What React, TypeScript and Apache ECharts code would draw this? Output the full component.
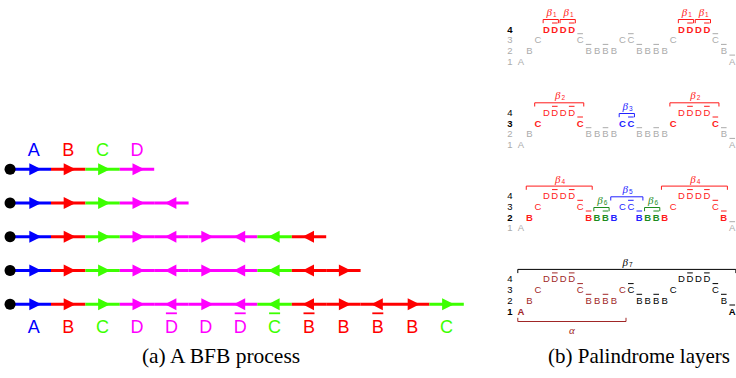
import React, { useEffect, useRef } from 'react';
import * as echarts from 'echarts';

// ---------- Panel (a): BFB process (a trailing ' marks an inverted segment) ----------
const bfbRows: string[][] = [
  ['A', 'B', 'C', 'D'],
  ['A', 'B', 'C', 'D', "D'"],
  ['A', 'B', 'C', 'D', "D'", 'D', "D'", "C'", "B'"],
  ['A', 'B', 'C', 'D', "D'", 'D', "D'", "C'", "B'", 'B'],
  ['A', 'B', 'C', 'D', "D'", 'D', "D'", "C'", "B'", 'B', "B'", 'B', 'C'],
];
const topLabels: string[] = ['A', 'B', 'C', 'D'];
const bottomLabels: string[] = bfbRows[bfbRows.length - 1];
const dotPosition = -0.19; // start of the chromosome, in segment units

// ---------- Panel (b): palindrome layers ----------
const palindrome: string[] = [
  'A', 'B', 'C', 'D', "D'", 'D', "D'", "C'", "B'", 'B', "B'", 'B', 'C',
  "C'", "B'", 'B', "B'", 'B', 'C', 'D', "D'", 'D', "D'", "C'", "B'", "A'",
];
const letterLevel: Record<string, number> = { A: 1, B: 2, C: 3, D: 4 };
const layerActiveLevel: number[] = [4, 3, 2, 1];
const levelLabels: number[] = [1, 2, 3, 4];

// palindromes of every layer
const spanLayer: number[] = [0, 0, 0, 0, 1, 1, 1, 2, 2, 2, 2, 2, 3, 3];
const spanStart: number[] = [3, 5, 19, 21, 2, 12, 18, 1, 9, 11, 15, 17, 0, 0];
const spanEnd: number[] = [4, 6, 20, 22, 7, 13, 23, 8, 10, 14, 16, 24, 25, 12];
const spanSymbol: string[] = ['β', 'β', 'β', 'β', 'β', 'β', 'β', 'β', 'β', 'β', 'β', 'β', 'β', 'α'];
const spanIndex: string[] = ['1', '1', '1', '1', '2', '3', '2', '4', '6', '5', '6', '4', '7', ''];
const spanGroup: string[] = ['r', 'r', 'r', 'r', 'r', 'b', 'r', 'r', 'g', 'b', 'g', 'r', 'k', 'm'];
const spanSide: string[] = ['up', 'up', 'up', 'up', 'up', 'up', 'up', 'up', 'up', 'up', 'up', 'up', 'up', 'down'];

const captionA = '(a) A BFB process';
const captionB = '(b) Palindrome layers';

// ---------- styles / layout ----------
const SEG_COLORS: Record<string, string> = { A: '#0000ff', B: '#ff0000', C: '#3cff00', D: '#ff00ff' };
const GROUP_COLORS: Record<string, string> = { r: '#ff1a1a', b: '#2222ff', g: '#1e8c1e', k: '#000000', m: '#a02626' };
const GRAY = '#ababab';
const SANS = '"Liberation Sans", Arial, sans-serif';
const SERIF = '"Liberation Serif", "Times New Roman", serif';
const BLOCK = 83.3 / 10.7; // vertical distance between layers, in level units
const LABEL_X = -1.3; // level numbers, in character units
const SMALL = 9.5;

const layerY = (b: number, level: number) => b * BLOCK + (4 - level);

// ---- data built from the arrays ----
const segInfo: { r: number; s: number; tok: string }[] = [];
bfbRows.forEach((row, r) => row.forEach((tok, s) => segInfo.push({ r, s, tok })));
const segData = segInfo.map((d) => [d.s, d.r]);
const dotData = bfbRows.map((_, r) => [dotPosition, r]);

const labelInfo: { tok: string; pos: 'top' | 'bottom' }[] = [];
const labelData: number[][] = [];
topLabels.forEach((tok, s) => { labelInfo.push({ tok, pos: 'top' }); labelData.push([s + 0.5, 0]); });
bottomLabels.forEach((tok, s) => { labelInfo.push({ tok, pos: 'bottom' }); labelData.push([s + 0.5, bfbRows.length - 1]); });

const charInfo: { b: number; i: number; tok: string; level: number }[] = [];
const charData: number[][] = [];
layerActiveLevel.forEach((_, b) => palindrome.forEach((tok, i) => {
  const level = letterLevel[tok[0]];
  charInfo.push({ b, i, tok, level });
  charData.push([i, layerY(b, level)]);
}));

const rowInfo: { b: number; level: number }[] = [];
const rowData: number[][] = [];
layerActiveLevel.forEach((_, b) => levelLabels.forEach((level) => {
  rowInfo.push({ b, level });
  rowData.push([LABEL_X, layerY(b, level)]);
}));

const spanData: number[][] = spanLayer.map((b, k) => {
  const lv = palindrome.slice(spanStart[k], spanEnd[k] + 1).map((t) => letterLevel[t[0]]);
  const level = spanSide[k] === 'up' ? Math.max(...lv) : Math.min(...lv);
  return [spanStart[k], spanEnd[k], layerY(b, level)];
});

function charStyle(b: number, i: number, level: number) {
  const active = layerActiveLevel[b];
  if (level < active) return { color: GRAY, bold: false };
  let g = '';
  spanLayer.forEach((sb, k) => {
    if (sb === b && i >= spanStart[k] && i <= spanEnd[k]) g = spanGroup[k];
  });
  return { color: g ? GROUP_COLORS[g] : '#000', bold: level === active };
}

function textEl(x: number, y: number, text: string, font: string, fill: string, align = 'center') {
  return {
    type: 'text',
    x, y,
    style: { text, font, fill, align, verticalAlign: 'middle', textAlign: align, textVerticalAlign: 'middle' },
  };
}

const option: any = {
  animation: false,
  backgroundColor: '#ffffff',
  grid: [
    { left: 8.0, top: 135.55, width: 455.8, height: 202.5, outerBoundsMode: 'none' },
    { left: 521, top: 29, width: 211.25, height: 321, outerBoundsMode: 'none' },
  ],
  xAxis: [
    { gridIndex: 0, type: 'value', min: -0.25, max: 13, show: false },
    { gridIndex: 1, type: 'value', min: 0, max: 25, show: false },
  ],
  yAxis: [
    { gridIndex: 0, type: 'value', min: -1, max: 5, inverse: true, show: false },
    { gridIndex: 1, type: 'value', min: 0, max: 30, inverse: true, show: false },
  ],
  series: [
    {
      type: 'custom', name: 'segments', xAxisIndex: 0, yAxisIndex: 0, data: segData,
      renderItem: (params: any, api: any) => {
        const info = segInfo[params.dataIndex];
        const s = api.value(0); const r = api.value(1);
        const p0 = s === 0 ? api.coord([dotPosition, r]) : api.coord([s, r]);
        const p1 = api.coord([s + 1, r]);
        const pc = api.coord([s + 0.5, r]);
        const col = SEG_COLORS[info.tok[0]];
        const inv = info.tok.endsWith("'");
        const c = pc[0]; const y = pc[1];
        const pts = inv
          ? [[c - 6.5, y], [c + 5, y - 6], [c + 5, y + 6]]
          : [[c + 7.5, y], [c - 4.5, y - 6], [c - 4.5, y + 6]];
        return {
          type: 'group',
          children: [
            { type: 'line', shape: { x1: p0[0], y1: y, x2: p1[0], y2: y }, style: { stroke: col, lineWidth: 3 } },
            { type: 'polygon', shape: { points: pts }, style: { fill: col } },
          ],
        };
      },
    },
    {
      type: 'custom', name: 'dots', xAxisIndex: 0, yAxisIndex: 0, data: dotData,
      renderItem: (params: any, api: any) => {
        const p = api.coord([api.value(0), api.value(1)]);
        return { type: 'circle', shape: { cx: p[0], cy: p[1], r: 5.5 }, style: { fill: '#000' } };
      },
    },
    {
      type: 'custom', name: 'segment labels', xAxisIndex: 0, yAxisIndex: 0, data: labelData,
      renderItem: (params: any, api: any) => {
        const info = labelInfo[params.dataIndex];
        const p = api.coord([api.value(0), api.value(1)]);
        const y = info.pos === 'top' ? p[1] - 19.5 : p[1] + 23;
        const col = SEG_COLORS[info.tok[0]];
        const children: any[] = [textEl(p[0], y, info.tok[0], `18px ${SANS}`, col)];
        if (info.tok.endsWith("'")) {
          children.push({ type: 'line', shape: { x1: p[0] - 5.5, y1: y - 14, x2: p[0] + 5.5, y2: y - 14 }, style: { stroke: col, lineWidth: 1.8 } });
        }
        return { type: 'group', children };
      },
    },
    {
      type: 'custom', name: 'layer letters', xAxisIndex: 1, yAxisIndex: 1, data: charData,
      renderItem: (params: any, api: any) => {
        const info = charInfo[params.dataIndex];
        const p = api.coord([api.value(0), api.value(1)]);
        const st = charStyle(info.b, info.i, info.level);
        const children: any[] = [textEl(p[0], p[1], info.tok[0], `${st.bold ? 'bold ' : ''}${SMALL}px ${SANS}`, st.color)];
        if (info.tok.endsWith("'")) {
          children.push({ type: 'line', shape: { x1: p[0] - 2.8, y1: p[1] - 6, x2: p[0] + 2.8, y2: p[1] - 6 }, style: { stroke: st.color, lineWidth: 1 } });
        }
        return { type: 'group', children };
      },
    },
    {
      type: 'custom', name: 'level numbers', xAxisIndex: 1, yAxisIndex: 1, data: rowData,
      renderItem: (params: any, api: any) => {
        const info = rowInfo[params.dataIndex];
        const p = api.coord([api.value(0), api.value(1)]);
        const active = layerActiveLevel[info.b];
        const color = info.level < active ? GRAY : '#000';
        const bold = info.level === active;
        return textEl(p[0], p[1], String(info.level), `${bold ? 'bold ' : ''}${SMALL}px ${SANS}`, color);
      },
    },
    {
      type: 'custom', name: 'palindromes', xAxisIndex: 1, yAxisIndex: 1, data: spanData,
      renderItem: (params: any, api: any) => {
        const k = params.dataIndex;
        const pa = api.coord([api.value(0), api.value(2)]);
        const pb = api.coord([api.value(1), api.value(2)]);
        const col = GROUP_COLORS[spanGroup[k]];
        const x1 = pa[0] - 3.2; const x2 = pb[0] + 3.6;
        const up = spanSide[k] === 'up';
        const ly = up ? pa[1] - 9.5 : pa[1] + 10.5;
        const tick = up ? 3.7 : -3.7;
        const cx = (x1 + x2) / 2;
        const ty = up ? ly - 7.5 : ly + 8.5;
        const children: any[] = [
          { type: 'polyline', shape: { points: [[x1, ly + tick], [x1, ly], [x2, ly], [x2, ly + tick]] }, style: { stroke: col, lineWidth: 1, fill: null } },
          textEl(spanIndex[k] ? cx - 1.5 : cx, ty, spanSymbol[k], `italic 11px ${SERIF}`, col),
        ];
        if (spanIndex[k]) children.push(textEl(cx + 2.2, ty + 2.5, spanIndex[k], `6.5px ${SANS}`, col, 'left'));
        return { type: 'group', children };
      },
    },
  ],
  graphic: [
    { type: 'text', x: 221, y: 356, style: { text: captionA, font: `21.5px ${SERIF}`, fill: '#000', align: 'center', verticalAlign: 'middle', textAlign: 'center', textVerticalAlign: 'middle' } },
    { type: 'text', x: 548, y: 356, style: { text: captionB, font: `21px ${SERIF}`, fill: '#000', align: 'left', verticalAlign: 'middle', textAlign: 'left', textVerticalAlign: 'middle' } },
  ],
};

export default function App() {
  const ref = useRef<HTMLDivElement>(null);
  useEffect(() => {
    const chart = echarts.init(ref.current as HTMLDivElement, null, { renderer: 'svg' });
    chart.setOption(option);
    return () => chart.dispose();
  }, []);
  return (
    <div
      ref={ref}
      style={{ position: 'fixed', left: 0, top: 0, width: 736, height: 378, background: '#ffffff' }}
    />
  );
}
